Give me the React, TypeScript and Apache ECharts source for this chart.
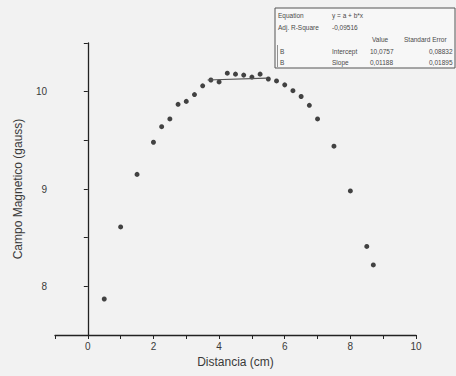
import React, { useEffect, useRef } from "react";
import * as echarts from "echarts";

const distancia = [0.5, 1.0, 1.5, 2.0, 2.25, 2.5, 2.75, 3.0, 3.25, 3.5, 3.75, 4.0, 4.25, 4.5, 4.75, 5.0, 5.25, 5.5, 5.75, 6.0, 6.25, 6.5, 6.75, 7.0, 7.5, 8.0, 8.5, 8.7];
const campo = [7.87, 8.61, 9.15, 9.48, 9.64, 9.72, 9.87, 9.9, 9.97, 10.06, 10.12, 10.1, 10.19, 10.18, 10.17, 10.15, 10.18, 10.13, 10.11, 10.07, 10.01, 9.95, 9.86, 9.72, 9.44, 8.98, 8.41, 8.22];
const fitX = [3.65, 5.45];
const fitY = [10.12, 10.14];

const tableRows = [
  ["Equation", "y = a + b*x", "", ""],
  ["Adj. R-Square", "-0,09516", "", ""],
  ["", "", "Value", "Standard Error"],
  ["B", "Intercept", "10,0757", "0,08832"],
  ["B", "Slope", "0,01188", "0,01895"],
];

const FONT = "Liberation Sans, Arial, sans-serif";

export default function App() {
  const ref = useRef<HTMLDivElement>(null);
  useEffect(() => {
    if (!ref.current) return;
    const chart = echarts.init(ref.current, null, { renderer: "svg" });
    const rowY = [15, 27, 39, 51, 62];
    const colX = [278, 332, 370, 404];
    const texts: any[] = [];
    tableRows.forEach((row, i) => {
      row.forEach((t, j) => {
        if (!t) return;
        let x = colX[j];
        if (i >= 3 && j === 0) x = 280;
        if (i === 2 && j === 2) x = 372;
        if (i >= 3 && j === 3) x = 429;
        texts.push({
          type: "text",
          x,
          y: rowY[i],
          style: { text: t, fill: "#4a4a4a", font: `6.5px ${FONT}`, verticalAlign: "middle" },
        });
      });
    });
    chart.setOption({
      animation: false,
      backgroundColor: "#f2f2f2",
      grid: { left: 55, right: 40, top: 43, bottom: 41, containLabel: false },
      xAxis: {
        type: "value",
        min: -1,
        max: 10,
        interval: 1,
        name: "Distancia (cm)",
        nameLocation: "middle",
        nameGap: 20,
        nameTextStyle: { fontFamily: FONT, fontSize: 12, color: "#3a3a3a" },
        splitLine: { show: false },
        axisLine: { lineStyle: { color: "#222", width: 1.3 } },
        axisTick: { length: 4, lineStyle: { color: "#222" } },
        axisLabel: {
          fontFamily: FONT,
          fontSize: 10,
          color: "#3a3a3a",
          margin: 6,
          formatter: (v: number) => (v >= 0 && v % 2 === 0 ? String(v) : ""),
        },
      },
      yAxis: {
        type: "value",
        min: 7.5,
        max: 10.5,
        interval: 0.5,
        name: "Campo Magnetico (gauss)",
        nameLocation: "middle",
        nameGap: 31,
        nameTextStyle: { fontFamily: FONT, fontSize: 12, color: "#3a3a3a" },
        splitLine: { show: false },
        axisLine: { show: true, lineStyle: { color: "#222", width: 1.3 } },
        axisTick: { show: true, length: 4, lineStyle: { color: "#222" } },
        axisLabel: {
          fontFamily: FONT,
          fontSize: 10,
          color: "#3a3a3a",
          margin: 8,
          formatter: (v: number) => (Number.isInteger(v) ? String(v) : ""),
        },
      },
      series: [
        {
          type: "scatter",
          data: distancia.map((x, i) => [x, campo[i]]),
          symbolSize: 5,
          itemStyle: { color: "#151515" },
        },
        {
          type: "line",
          data: fitX.map((x, i) => [x, fitY[i]]),
          showSymbol: false,
          lineStyle: { color: "#555", width: 1.2 },
        },
      ],
      graphic: [
        {
          type: "rect",
          shape: { x: 275, y: 8, width: 180, height: 60 },
          style: { fill: "#f7f7f7", stroke: "#555", lineWidth: 1 },
        },
        {
          type: "line",
          shape: { x1: 277.5, y1: 45, x2: 277.5, y2: 67 },
          style: { stroke: "#777", lineWidth: 0.8 },
        },
        ...texts,
      ],
    });
    return () => chart.dispose();
  }, []);
  return (
    <div
      ref={ref}
      style={{ position: "fixed", left: 0, top: 0, width: 456, height: 376 }}
    />
  );
}
